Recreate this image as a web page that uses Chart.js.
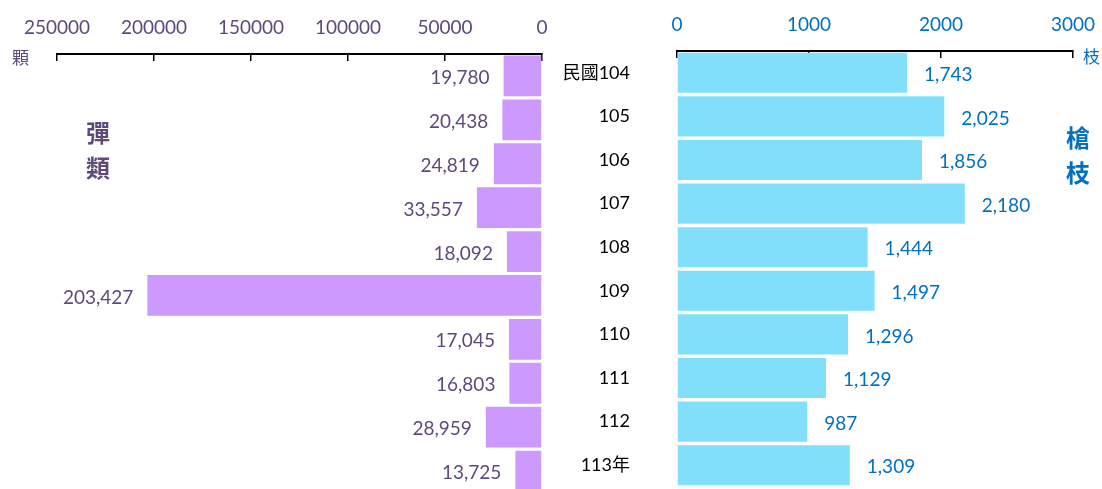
<!DOCTYPE html>
<html>
<head>
<meta charset="utf-8">
<script src="https://cdn.jsdelivr.net/npm/chart.js@4"></script>
<style>
  html, body { margin: 0; padding: 0; background: #fff; overflow: hidden; }
  body { width: 1102px; height: 489px; position: relative; font-family: Lato, "Noto Sans CJK TC", sans-serif; }
  canvas { position: absolute; top: 0; }
  .note { position: absolute; line-height: 1; }
  .ammo { color: #5f497a; }
  .gun { color: #0070c0; }
  .big { font-size: 24px; font-weight: bold; font-family: "Noto Sans CJK TC", sans-serif; }
  .unit { font-size: 17px; font-family: "Noto Sans CJK TC", sans-serif; }
</style>
</head>
<body>
<canvas id="ammoChart" width="560" height="494" style="left:0"></canvas>
<canvas id="gunChart" width="562" height="489" style="left:540px"></canvas>

<div class="note unit ammo" style="left:12px;top:48px">顆</div>
<div class="note unit gun" style="left:1083px;top:47px">枝</div>
<div class="note big ammo" style="left:86px;top:120px">彈</div>
<div class="note big ammo" style="left:86px;top:155px">類</div>
<div class="note big gun" style="left:1066px;top:125px">槍</div>
<div class="note big gun" style="left:1066px;top:160px">枝</div>

<script>
// 年度
const years = ["民國104", "105", "106", "107", "108", "109", "110", "111", "112", "113年"];
// 彈類 (顆)
const ammo = [19780, 20438, 24819, 33557, 18092, 203427, 17045, 16803, 28959, 13725];
// 槍枝 (枝)
const guns = [1743, 2025, 1856, 2180, 1444, 1497, 1296, 1129, 987, 1309];

const ammoTicks = [0, 50000, 100000, 150000, 200000, 250000];
const gunTicks = [0, 1000, 2000, 3000];

const FONT = "Lato, 'Noto Sans CJK TC', sans-serif";

// draws the numbers next to each bar
const valueLabels = {
  id: "valueLabels",
  afterDatasetsDraw(chart, args, opts) {
    const ctx = chart.ctx;
    const meta = chart.getDatasetMeta(0);
    const data = chart.data.datasets[0].data;
    ctx.save();
    ctx.font = `19px ${FONT}`;
    ctx.fillStyle = opts.color;
    ctx.textAlign = opts.align;
    ctx.textBaseline = "middle";
    meta.data.forEach((bar, i) => {
      ctx.fillText(data[i].toLocaleString("en-US"), bar.x + opts.offset, bar.y + 2);
    });
    ctx.restore();
  },
};

// year names between the two panels, placed with the y scale of the right chart
const yearLabels = {
  id: "yearLabels",
  afterDraw(chart) {
    const ctx = chart.ctx;
    const y = chart.scales.y;
    ctx.save();
    ctx.font = `18px ${FONT}`;
    ctx.fillStyle = "#000";
    ctx.textAlign = "right";
    ctx.textBaseline = "middle";
    years.forEach((name, i) => {
      ctx.fillText(name, chart.chartArea.left - 47, y.getPixelForTick(i));
    });
    ctx.restore();
  },
};

function topAxis(tickValues, color, height) {
  return {
    position: "top",
    min: 0,
    max: tickValues[tickValues.length - 1],
    afterBuildTicks: (scale) => {
      scale.ticks = tickValues.map((v) => ({ value: v }));
    },
    afterFit: (scale) => {
      scale.height = height;
      scale.paddingLeft = 0;
      scale.paddingRight = 0;
    },
    grid: {
      drawOnChartArea: false,
      color: "#000",
      lineWidth: 1.5,
      tickLength: -7,
    },
    border: { display: true, color: "#000", width: 2 },
    ticks: {
      color: color,
      padding: 22,
      font: { family: FONT, size: 19 },
      maxRotation: 0,
      callback: (v) => String(v),
    },
  };
}

new Chart(document.getElementById("ammoChart"), {
  type: "bar",
  data: {
    labels: years,
    datasets: [
      {
        data: ammo,
        backgroundColor: "#cc99ff",
        borderWidth: 0,
        categoryPercentage: 1,
        barPercentage: 0.93,
      },
    ],
  },
  options: {
    indexAxis: "y",
    responsive: false,
    animation: false,
    layout: { padding: { left: 57, right: 18, top: 0, bottom: 1 } },
    scales: {
      x: Object.assign(topAxis(ammoTicks, "#5f497a", 54), { reverse: true }),
      y: { display: false },
    },
    plugins: {
      legend: { display: false },
      tooltip: { enabled: false },
      valueLabels: { color: "#5f497a", align: "right", offset: -14 },
    },
  },
  plugins: [valueLabels],
});

new Chart(document.getElementById("gunChart"), {
  type: "bar",
  data: {
    labels: years,
    datasets: [
      {
        data: guns,
        backgroundColor: "#82dffc",
        borderWidth: 0,
        categoryPercentage: 1,
        barPercentage: 0.92,
      },
    ],
  },
  options: {
    indexAxis: "y",
    responsive: false,
    animation: false,
    layout: { padding: { left: 137, right: 29, top: 0, bottom: 2 } },
    scales: {
      x: topAxis(gunTicks, "#0070c0", 51),
      y: { display: false },
    },
    plugins: {
      legend: { display: false },
      tooltip: { enabled: false },
      valueLabels: { color: "#0070c0", align: "left", offset: 17 },
    },
  },
  plugins: [valueLabels, yearLabels],
});
</script>
</body>
</html>
